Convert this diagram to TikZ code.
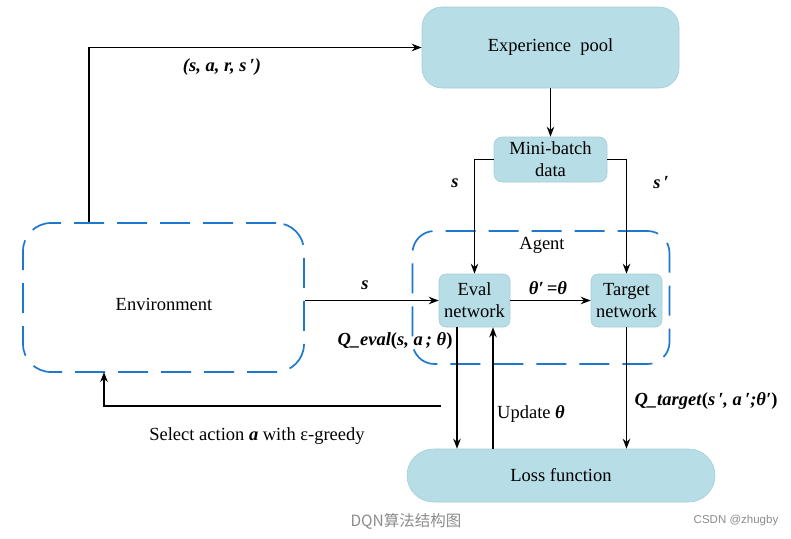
\documentclass[tikz,border=0pt]{standalone}
\usepackage{fontspec}
\setmainfont{Liberation Serif}
\newfontfamily\cjkfont{Noto Sans CJK SC}
\newfontfamily\capsans{Liberation Sans}
\usetikzlibrary{arrows.meta}
\definecolor{boxfill}{RGB}{183,221,230}
\definecolor{boxedge}{RGB}{165,205,215}
\definecolor{dashblue}{RGB}{30,120,205}
\begin{document}
\begin{tikzpicture}[x=1pt,y=-1pt,
  font=\fontsize{18.5}{22}\selectfont,
  bluebox/.style={draw=boxedge, fill=boxfill, line width=0.6pt, align=center, inner sep=0pt},
  dashbox/.style={draw=dashblue, line width=1.7pt, dash pattern=on 30pt off 13pt, inner sep=0pt},
  arr/.style={draw=black, line width=1.6pt, -{Stealth[length=10pt,width=7.5pt]}},
  lab/.style={font=\fontsize{18.5}{22}\selectfont\bfseries\itshape, inner sep=0pt},
  txt/.style={font=\fontsize{18.5}{22}\selectfont, inner sep=0pt}]
\useasboundingbox (0,0) rectangle (791,538);
% boxes
\node[bluebox, rounded corners=20pt, minimum width=257pt, minimum height=81pt] (exp) at (550.5,47.5) {Experience\ \ pool};
\node[bluebox, rounded corners=8pt, minimum width=113pt, minimum height=45pt] (mini) at (550.5,159.5) {Mini-batch\\data};
\node[dashbox, rounded corners=22pt, minimum width=257pt, minimum height=133pt] (agent) at (541,297.5) {};
\node[dashbox, rounded corners=28pt, minimum width=281pt, minimum height=149pt] (env) at (163.5,297.5) {};
\node[txt] (envlab) at (164,304) {Environment};
\node[txt] (agentlab) at (542,245) {Agent};
\node[bluebox, rounded corners=7pt, minimum width=71pt, minimum height=53pt] (eval) at (474.5,300.5) {Eval\\network};
\node[bluebox, rounded corners=7pt, minimum width=71pt, minimum height=53pt] (target) at (626.5,300.5) {Target\\network};
\node[bluebox, rounded corners=26.5pt, minimum width=308pt, minimum height=53pt] (loss) at (561,475.5) {Loss function};
% helper coordinates
\coordinate (xenv) at (89,0);
\coordinate (xdown) at (457,0);
\coordinate (xup) at (493,0);
\coordinate (selstart) at (441,406);
\coordinate (selend) at (104,372);
% connectors
\draw[arr] (env.north -| xenv) |- (exp.west);
\draw[arr] (exp.south) -- (mini.north);
\draw[arr] (mini.west) -| (eval.north);
\draw[arr] (mini.east) -| (target.north);
\draw[arr] (eval.west -| env.east) -- (eval.west);
\draw[arr] (eval.east) -- (target.west);
\draw[arr] (eval.south -| xdown) -- (loss.north -| xdown);
\draw[arr] (loss.north -| xup) -- (eval.south -| xup);
\draw[arr] (target.south) -- (target.south |- loss.north);
\draw[arr] (selstart) -| (selend);
% labels
\node[lab] (l1) at (222,67) {(s, a, r, s\,′)};
\node[lab] (l2) at (455,183) {s};
\node[lab] (l3) at (661,183) {s\,′};
\node[lab] (l4) at (365,285) {s};
\node[lab] (l5) at (548,288) {θ′\,=θ};
\node[lab] (l6) at (395,341) {Q\_eval\textup{(}s, a\,; θ\textup{)}};
\node[txt] (l7) at (531,414) {Update \textbf{\textit{θ}}};
\node[lab] (l8) at (706,401) {Q\_target\textup{(}s\,′, a\,′;θ′\textup{)}};
\node[txt] (l9) at (257,436) {Select action \textbf{\textit{a}} with ε-greedy};
\node[font=\fontsize{15.5}{18}\selectfont\cjkfont, text=black!45, inner sep=0pt] (cap) at (406,521) {DQN算法结构图};
\node[font=\fontsize{11.5}{13}\selectfont\capsans, text=black!45, inner sep=0pt] (wm) at (736,521) {CSDN @zhugby};
\end{tikzpicture}
\end{document}
